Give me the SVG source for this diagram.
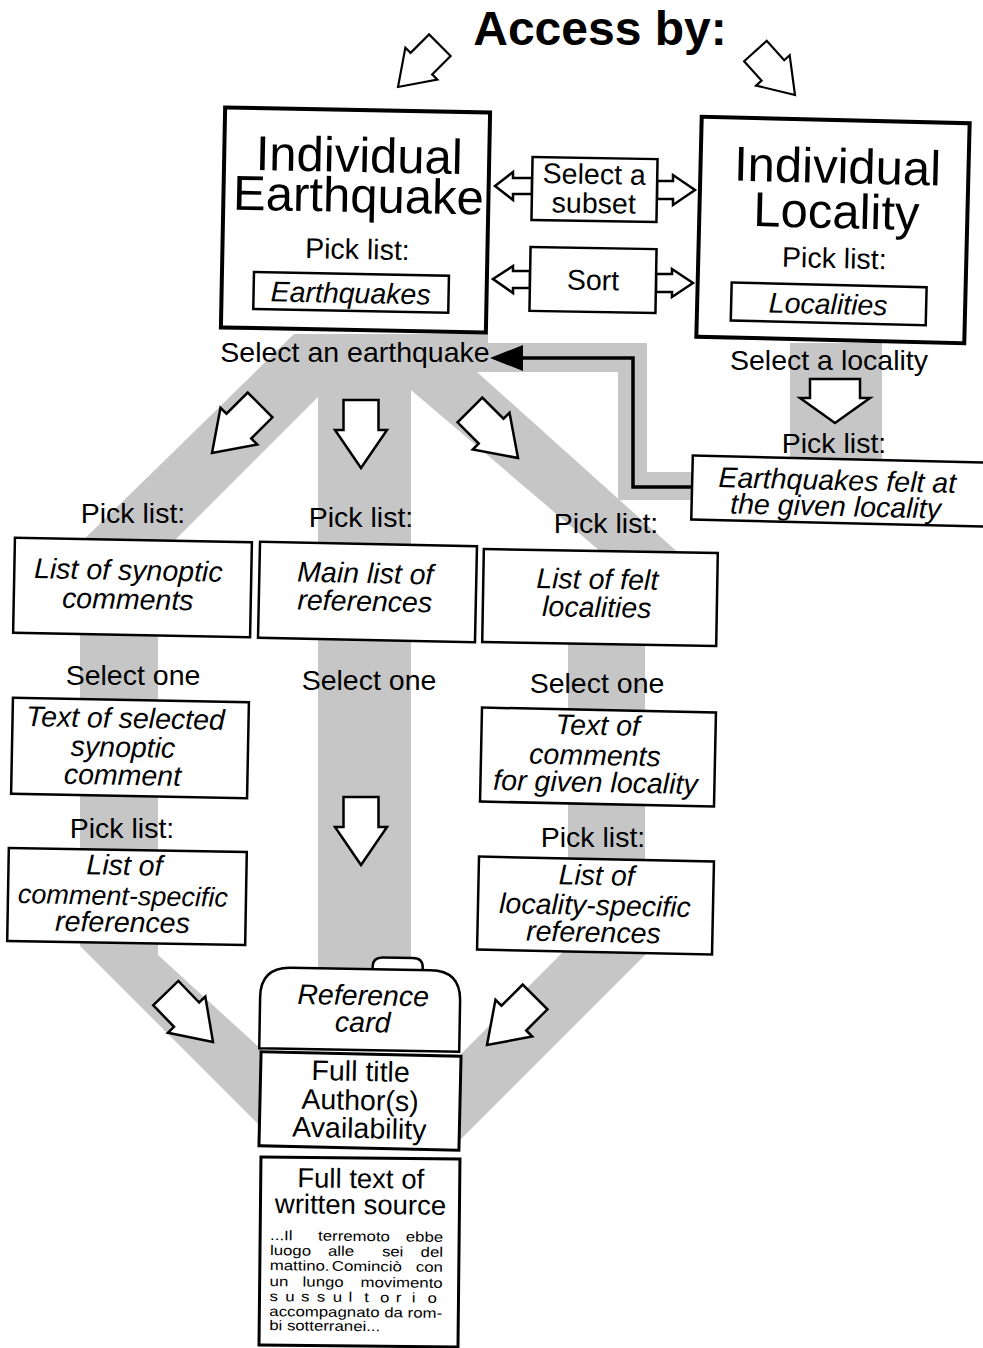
<svg xmlns="http://www.w3.org/2000/svg" xmlns:xlink="http://www.w3.org/1999/xlink" width="983" height="1348" viewBox="0 0 983 1348">
<style>
  .t{font-family:"Liberation Sans",Arial,Helvetica,sans-serif;font-size:28.5px;text-anchor:middle;fill:#000}
  .i{font-style:italic}
  .big{font-size:49px}
  .title{font-family:"Liberation Sans",Arial,Helvetica,sans-serif;font-size:48px;font-weight:bold;text-anchor:middle;fill:#000}
  .small{font-family:"Liberation Sans",Arial,Helvetica,sans-serif;font-size:14px;fill:#000}
  .box{fill:#fff;stroke:#000;stroke-width:2.5}
  .bigbox{fill:#fff;stroke:#000;stroke-width:4}
  .midbox{fill:#fff;stroke:#000;stroke-width:3}
  .band{fill:#c6c6c6;stroke:none}
  .arr{fill:#fff;stroke:#000;stroke-width:2.5;stroke-linejoin:miter}
  .line{fill:none;stroke:#000;stroke-width:3.5}
</style>
<defs>
  <polygon id="barrow" points="0,0 -26,-38 -17.5,-38 -17.5,-68 17.5,-68 17.5,-38 26,-38"/>
</defs>
<rect width="983" height="1348" fill="#fff"/>

<g id="bands">
  <polygon class="band" points="294,334 488,334 488,343 647,343 647,472 692,472 692,500 618,500 618,372 477,372 683,557 607,557 411,390 411,1000 318,1000 318,397 165,550 73,550"/>
  <polygon class="band" points="80,545 158,545 158,955 262,1050 262,1128 80,946"/>
  <polygon class="band" points="568,600 645,600 645,955 460,1140 460,1055 568,947"/>
  <rect class="band" x="790" y="343" width="92" height="117"/>
</g>

<text class="title" x="600" y="45">Access by:</text>

<g id="connectors">
  <use xlink:href="#barrow" class="arr" transform="translate(398,87) rotate(45) scale(0.87)"/>
  <use xlink:href="#barrow" class="arr" transform="translate(795,95) rotate(-42) scale(0.87)"/>
  <polygon class="arr" points="532,178 513,178 513,172 495,186 513,200 513,194 532,194"/>
  <polygon class="arr" points="657,181 673,181 673,175 695,190 673,205 673,199 657,199"/>
  <polygon class="arr" points="530,271 513,271 513,266 493,279 513,293 513,288 530,288"/>
  <polygon class="arr" points="656,274 672,274 672,269 693,283 672,297 672,292 656,292"/>
  <use xlink:href="#barrow" class="arr" transform="translate(212,453) rotate(45)"/>
  <use xlink:href="#barrow" class="arr" transform="translate(361,468)"/>
  <use xlink:href="#barrow" class="arr" transform="translate(518,458) rotate(-45)"/>
  <polygon class="arr" points="835,423 800,398 810,398 810,379 860,379 860,398 870,398"/>
  <polyline class="line" points="692,487 633,487 633,358 520,358"/>
  <polygon points="490,358 523,345 523,371" fill="#000"/>
  <use xlink:href="#barrow" class="arr" transform="translate(361,865)"/>
  <use xlink:href="#barrow" class="arr" transform="translate(213,1042) rotate(-44)"/>
  <use xlink:href="#barrow" class="arr" transform="translate(487,1045) rotate(45)"/>
</g>

<g id="n-earthquake" transform="rotate(1.1 356 220)">
  <rect class="bigbox" x="223" y="110" width="265" height="220"/>
  <text class="t big"><tspan x="358" y="172">Individual</tspan><tspan x="358" y="212">Earthquake</tspan></text>
  <text class="t" x="358" y="259">Pick list:</text>
  <rect class="box" x="255" y="274" width="195" height="37"/>
  <text class="t i" x="352" y="303">Earthquakes</text>
</g>

<g id="n-locality" transform="rotate(1.4 833 230)">
  <rect class="bigbox" x="699" y="120" width="268" height="220"/>
  <text class="t big"><tspan x="836" y="183">Individual</tspan><tspan x="836" y="228">Locality</tspan></text>
  <text class="t" x="835" y="268">Pick list:</text>
  <rect class="box" x="733" y="285" width="195" height="38"/>
  <text class="t i" x="830" y="314">Localities</text>
</g>

<g id="n-subset" transform="rotate(1 594 190)">
  <rect class="box" x="532" y="158" width="125" height="63"/>
  <text class="t"><tspan x="594" y="184">Select a</tspan><tspan x="594" y="213">subset</tspan></text>
</g>

<g id="n-sort" transform="rotate(1 593 280)">
  <rect class="box" x="530" y="248" width="126" height="64"/>
  <text class="t" x="593" y="290">Sort</text>
</g>

<g id="n-felt" transform="rotate(1.4 837 491)">
  <rect class="box" x="692" y="459" width="300" height="64"/>
  <text class="t i"><tspan x="837" y="490">Earthquakes felt at</tspan><tspan x="836" y="516">the given locality</tspan></text>
</g>

<g id="labels">
  <text class="t" x="355" y="362">Select an earthquake</text>
  <text class="t" x="829" y="370">Select a locality</text>
  <text class="t" x="834" y="453">Pick list:</text>
  <text class="t" x="133" y="523">Pick list:</text>
  <text class="t" x="361" y="527">Pick list:</text>
  <text class="t" x="606" y="533">Pick list:</text>
  <text class="t" x="133" y="685">Select one</text>
  <text class="t" x="369" y="690">Select one</text>
  <text class="t" x="597" y="693">Select one</text>
  <text class="t" x="122" y="838">Pick list:</text>
  <text class="t" x="593" y="847">Pick list:</text>
</g>

<g id="n-synoptic" transform="rotate(1.1 132 588)">
  <rect class="box" x="14" y="540" width="237" height="95"/>
  <text class="t i"><tspan x="128" y="580">List of synoptic</tspan><tspan x="128" y="609">comments</tspan></text>
</g>

<g id="n-mainlist" transform="rotate(1.2 367 592)">
  <rect class="box" x="259" y="544" width="217" height="96"/>
  <text class="t i"><tspan x="365" y="583">Main list of</tspan><tspan x="365" y="611">references</tspan></text>
</g>

<g id="n-feltloc" transform="rotate(1 600 598)">
  <rect class="box" x="483" y="551" width="234" height="93"/>
  <text class="t i"><tspan x="597" y="589">List of felt</tspan><tspan x="597" y="617">localities</tspan></text>
</g>

<g id="n-synoptic-text" transform="rotate(1.1 130 748)">
  <rect class="box" x="12" y="700" width="236" height="96"/>
  <text class="t i"><tspan x="125" y="728">Text of selected</tspan><tspan x="123" y="757">synoptic</tspan><tspan x="123" y="785">comment</tspan></text>
</g>

<g id="n-comment-refs" transform="rotate(1 127 896)">
  <rect class="box" x="8" y="850" width="238" height="93"/>
  <text class="t i"><tspan x="124" y="875">List of</tspan><tspan x="123" y="905" style="font-size:27px">comment-specific</tspan><tspan x="123" y="932">references</tspan></text>
</g>

<g id="n-loc-comments" transform="rotate(1.2 598 757)">
  <rect class="box" x="481" y="710" width="234" height="94"/>
  <text class="t i"><tspan x="597" y="735">Text of</tspan><tspan x="595" y="765">comments</tspan><tspan x="596" y="792">for given locality</tspan></text>
</g>

<g id="n-loc-refs" transform="rotate(1.2 596 906)">
  <rect class="box" x="478" y="859" width="235" height="93"/>
  <text class="t i"><tspan x="596" y="885">List of</tspan><tspan x="595" y="915">locality-specific</tspan><tspan x="594" y="942">references</tspan></text>
</g>

<g id="n-refcard" transform="rotate(1 360 1005)">
  <path class="box" d="M372,970 L372,966 Q372,957 382,957 L412,957 Q422,957 422,966 L422,970"/>
  <path class="box" d="M260,1050 L260,999 Q260,969 290,969 L430,969 Q460,969 460,999 L460,1050 Z"/>
  <text class="t i"><tspan x="363" y="1005">Reference</tspan><tspan x="363" y="1032">card</tspan></text>
</g>

<g id="n-fulltitle" transform="rotate(1.3 360 1101)">
  <rect class="midbox" x="260" y="1054" width="200" height="94"/>
  <text class="t"><tspan x="360" y="1081">Full title</tspan><tspan x="360" y="1110">Author(s)</tspan><tspan x="360" y="1138">Availability</tspan></text>
</g>

<g id="n-fulltext" transform="rotate(0.6 360 1250)">
  <rect class="midbox" x="260" y="1158" width="199" height="188"/>
  <text class="t" style="font-size:27.5px"><tspan x="360" y="1188">Full text of</tspan><tspan x="360" y="1214">written source</tspan></text>
  <g transform="matrix(1.2,0,0,1,270,0)">
    <text class="small"><tspan x="0" y="1241">...Il</tspan><tspan x="40" y="1241">terremoto</tspan><tspan x="144.2" y="1241" text-anchor="end">ebbe</tspan><tspan x="0" y="1256">luogo</tspan><tspan x="48.3" y="1256">alle</tspan><tspan x="93.3" y="1256">sei</tspan><tspan x="144.2" y="1256" text-anchor="end">del</tspan><tspan x="0" y="1271">mattino.</tspan><tspan x="51.7" y="1271">Cominciò</tspan><tspan x="144.2" y="1271" text-anchor="end">con</tspan><tspan x="0" y="1287">un</tspan><tspan x="27.5" y="1287">lungo</tspan><tspan x="144.2" y="1287" text-anchor="end">movimento</tspan><tspan x="0 13.17 26.33 39.5 52.67 65.83 79 92.17 105.33 118.5 131.67" y="1302">sussultorio</tspan><tspan x="0" y="1317" textLength="144" lengthAdjust="spacing">accompagnato da rom-</tspan><tspan x="0" y="1331">bi sotterranei...</tspan></text>
  </g>
</g>
</svg>
